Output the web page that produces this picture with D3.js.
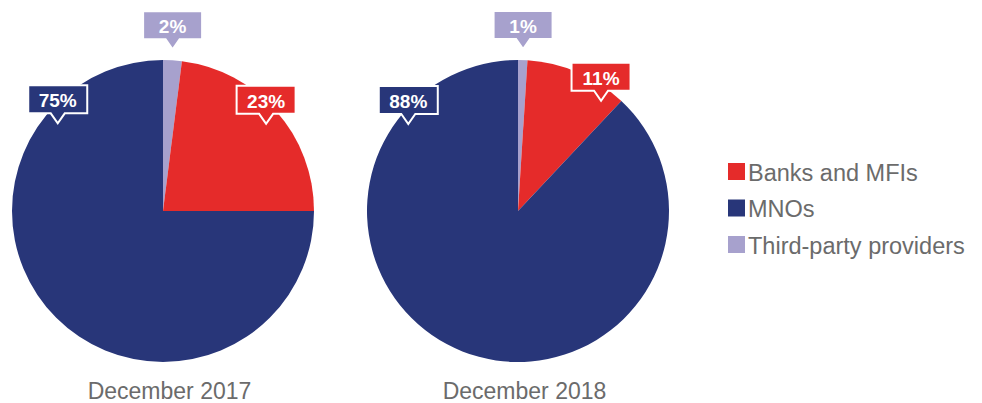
<!DOCTYPE html>
<html>
<head>
<meta charset="utf-8">
<script src="https://cdn.jsdelivr.net/npm/d3@7/dist/d3.min.js"></script>
<style>
  html, body { margin: 0; padding: 0; background: #fff; }
  svg { display: block; }
</style>
</head>
<body>
<svg id="chart" width="982" height="403"></svg>
<script>
// ---- data ----
const categories = ["Banks and MFIs", "MNOs", "Third-party providers"];
const periods = ["December 2017", "December 2018"];
const values2017 = [23, 75, 2];
const values2018 = [11, 88, 1];
const colors = ["#e52b2a", "#283679", "#a7a1cd"];
// drawing order, clockwise from 12 o'clock (indices into categories)
const sliceOrder = [2, 0, 1];

// ---- layout (not data) ----
const R = 151;
const centers = [{x: 163, y: 211}, {x: 518, y: 211}];
// label anchor: angle in degrees (clockwise from top) and radius, per chart, per category
const labelAnchors = [
  [{a: 49.8, r: 135}, {a: -50.2, r: 137}, {a: 3.4, r: 162}],
  [{a: 37.0, r: 138}, {a: -51.6, r: 140}, {a: 1.8, r: 162}]
];

const svg = d3.select("#chart");
const series = [values2017, values2018];
const arc = d3.arc().innerRadius(0).outerRadius(R);

series.forEach((vals, ci) => {
  const c = centers[ci];
  const g = svg.append("g").attr("transform", `translate(${c.x},${c.y})`);
  const p = d3.pie().sort(null).value(i => vals[i])(sliceOrder);
  g.selectAll("path.slice").data(p).join("path")
    .attr("class", "slice")
    .attr("d", arc)
    .attr("fill", d => colors[d.data]);

  // labels
  const bw = 59, bh = 28, th = 10, tw = 7;
  categories.forEach((cat, k) => {
    const an = labelAnchors[ci][k];
    const rad = an.a * Math.PI / 180;
    const tx = an.r * Math.sin(rad), ty = -an.r * Math.cos(rad);
    const lg = g.append("g").attr("transform", `translate(${tx},${ty})`);
    const top = -th - bh, bot = -th;
    const path = `M${-bw/2},${top} H${bw/2} V${bot} H${tw} L0,0 L${-tw},${bot} H${-bw/2} Z`;
    lg.append("path").attr("d", path)
      .attr("fill", colors[k])
      .attr("stroke", "#fff").attr("stroke-width", 2).attr("stroke-linejoin", "miter");
    lg.append("text")
      .attr("x", 0).attr("y", top + 22)
      .attr("text-anchor", "middle")
      .attr("font-family", "Liberation Sans, Arial, sans-serif")
      .attr("font-size", 19).attr("font-weight", "bold")
      .attr("fill", "#fff")
      .text(vals[k] + "%");
  });

  svg.append("text")
    .attr("x", c.x + 6.5).attr("y", 399)
    .attr("text-anchor", "middle")
    .attr("font-family", "Liberation Sans, Arial, sans-serif")
    .attr("font-size", 23)
    .attr("fill", "#6b6b6b")
    .text(periods[ci]);
});

// legend
const legend = svg.append("g").attr("transform", "translate(728,163)");
const rowY = d3.scalePoint().domain(categories).range([0, 73]);
categories.forEach((cat, k) => {
  const row = legend.append("g").attr("transform", `translate(0,${rowY(cat)})`);
  row.append("rect").attr("width", 17).attr("height", 17).attr("fill", colors[k]);
  row.append("text")
    .attr("x", 20).attr("y", 17.5)
    .attr("font-family", "Liberation Sans, Arial, sans-serif")
    .attr("font-size", 23.5)
    .attr("fill", "#6b6b6b")
    .text(cat);
});
</script>
</body>
</html>
